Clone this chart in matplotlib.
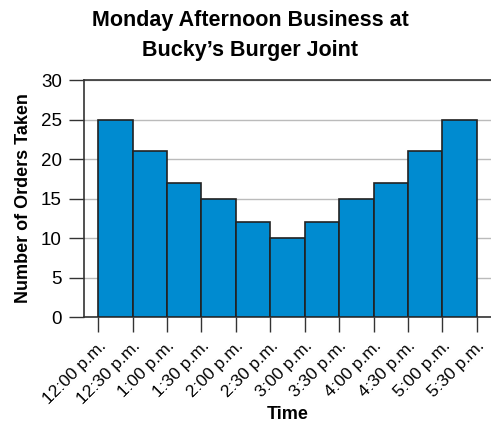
import matplotlib
matplotlib.use("Agg")
import matplotlib.pyplot as plt
from matplotlib import font_manager

times = ["12:00 p.m.", "12:30 p.m.", "1:00 p.m.", "1:30 p.m.", "2:00 p.m.", "2:30 p.m.",
         "3:00 p.m.", "3:30 p.m.", "4:00 p.m.", "4:30 p.m.", "5:00 p.m.", "5:30 p.m."]
orders = [25, 21, 17, 15, 12, 10, 12, 15, 17, 21, 25]

names = set(f.name for f in font_manager.fontManager.ttflist)
fam = "Liberation Sans Narrow" if "Liberation Sans Narrow" in names else "Liberation Sans"
plt.rcParams["font.family"] = [fam, "DejaVu Sans"]

fig = plt.figure(figsize=(4.91, 4.29), dpi=100)
ax = fig.add_axes([0.171, 0.261, 0.829, 0.5525])

edges = list(range(len(times)))
ax.bar(edges[:-1], orders, width=1, align="edge", color="#008bd0",
       edgecolor="#222222", linewidth=1.2, zorder=3)

ax.set_xlim(-0.41, len(times) - 1 + 0.41)
ax.set_ylim(0, 30)
ax.set_yticks(range(0, 31, 5))
ax.set_xticks(edges)
ax.set_xticklabels(times, rotation=45, ha="right", rotation_mode="anchor")
ax.tick_params(axis="both", length=11, width=1, color="#333333", labelsize=12.5)
ax.tick_params(axis="x", pad=4)
ax.tick_params(axis="y", pad=5, labelsize=13.5)
ax.yaxis.grid(True, color="#bbbbbb", linewidth=1, zorder=0)
ax.set_axisbelow(True)

ax.spines["right"].set_visible(False)
for s in ["left", "bottom", "top"]:
    ax.spines[s].set_color("#333333")
    ax.spines[s].set_linewidth(1.2)

ax.set_ylabel("Number of Orders Taken", fontsize=13, fontweight="bold", labelpad=6)
fig.text(0.585, 0.033, "Time", ha="center", va="center", fontsize=13, fontweight="bold")

fig.text(0.51, 0.952, "Monday Afternoon Business at", ha="center", va="center",
         fontsize=15.5, fontweight="bold")
fig.text(0.51, 0.883, "Bucky\u2019s Burger Joint", ha="center", va="center",
         fontsize=15.5, fontweight="bold")

fig.savefig("out.png", dpi=100)
